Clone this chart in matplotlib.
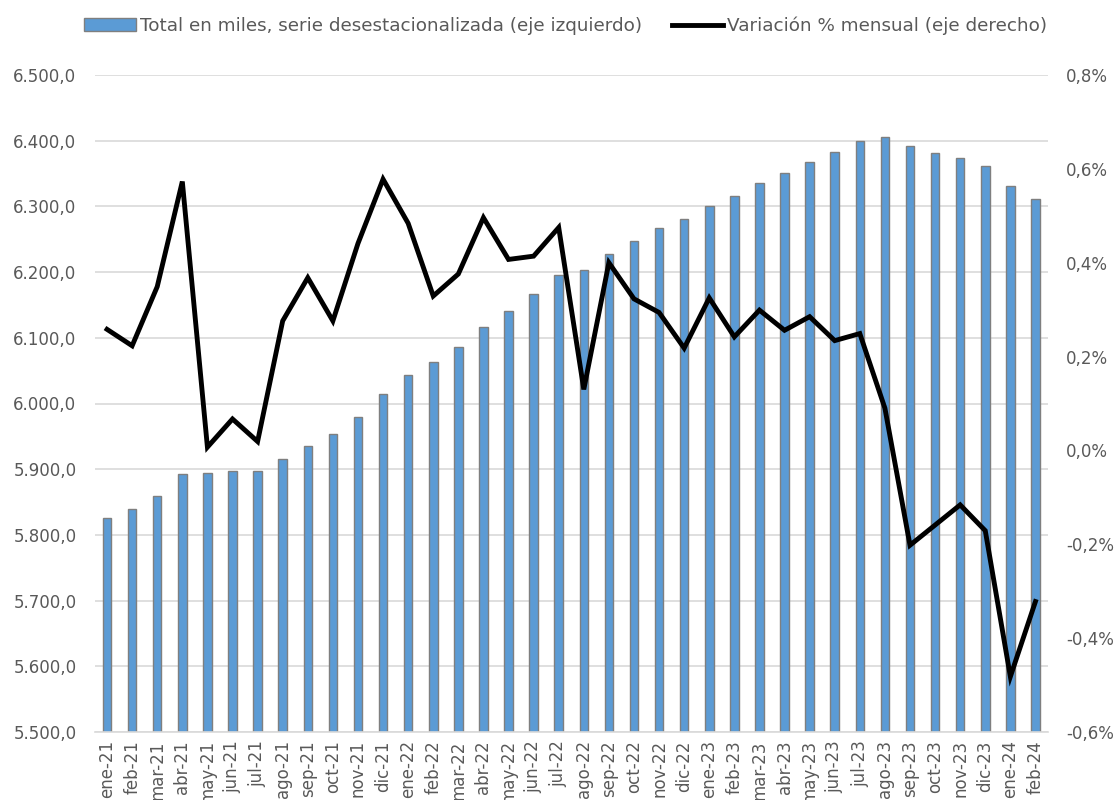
import matplotlib
matplotlib.use("Agg")
import matplotlib.pyplot as plt
from matplotlib.ticker import FuncFormatter
from matplotlib.lines import Line2D
from matplotlib.patches import Patch

plt.rcParams['font.family'] = ['DejaVu Sans']

# meses
meses = ["ene-21", "feb-21", "mar-21", "abr-21", "may-21", "jun-21", "jul-21", "ago-21",
         "sep-21", "oct-21", "nov-21", "dic-21", "ene-22", "feb-22", "mar-22", "abr-22",
         "may-22", "jun-22", "jul-22", "ago-22", "sep-22", "oct-22", "nov-22", "dic-22",
         "ene-23", "feb-23", "mar-23", "abr-23", "may-23", "jun-23", "jul-23", "ago-23",
         "sep-23", "oct-23", "nov-23", "dic-23", "ene-24", "feb-24"]

# total en miles (serie desestacionalizada)
total_miles = [5826, 5839, 5859, 5893, 5894, 5897, 5898, 5915,
               5936, 5953, 5979, 6014, 6043, 6063, 6086, 6116,
               6141, 6166, 6196, 6203, 6228, 6248, 6267, 6281,
               6300, 6316, 6335, 6351, 6368, 6383, 6400, 6405,
               6392, 6382, 6374, 6362, 6331, 6311]

# variacion % mensual
variacion = [0.258, 0.223, 0.349, 0.573, 0.007, 0.067, 0.019, 0.276,
             0.368, 0.276, 0.441, 0.578, 0.484, 0.329, 0.376, 0.496,
             0.407, 0.414, 0.475, 0.130, 0.400, 0.323, 0.294, 0.218,
             0.325, 0.242, 0.299, 0.256, 0.285, 0.234, 0.249, 0.090,
             -0.202, -0.159, -0.116, -0.171, -0.482, -0.322]

gris = "#595959"
azul = "#5B9BD5"

fig = plt.figure(figsize=(11.14, 8), dpi=100)
ax = fig.add_axes([94.5 / 1114, 1 - 732 / 800, (1048 - 94.5) / 1114, (732 - 75) / 800])
x = list(range(len(meses)))

ax.bar(x, total_miles, width=0.34, color=azul, edgecolor="#7F7F7F", linewidth=1.0, zorder=2)
ax.set_ylim(5500, 6500)
ax.set_yticks(range(5500, 6501, 100))
ax.yaxis.set_major_formatter(FuncFormatter(lambda v, p: f"{v:,.1f}".replace(",", "X").replace(".", ",").replace("X", ".")))
ax.set_xlim(-0.5, len(meses) - 0.5)
ax.set_xticks(x)
ax.set_xticklabels(meses, rotation=90)
ax.grid(axis="y", color="#D9D9D9", linewidth=1.2, zorder=0)
ax.set_axisbelow(True)
for s in ["top", "right", "left"]:
    ax.spines[s].set_visible(False)
ax.spines["bottom"].set_color("#D9D9D9")
ax.spines["bottom"].set_linewidth(1.2)
ax.tick_params(axis="both", length=0, labelsize=12, colors=gris)
ax.tick_params(axis="y", pad=13)
ax.tick_params(axis="x", pad=6)

ax2 = ax.twinx()
ax2.plot(x, variacion, color="black", linewidth=3.5, solid_joinstyle="miter", zorder=3)
ax2.set_ylim(-0.6, 0.8)
ax2.set_yticks([-0.6, -0.4, -0.2, 0.0, 0.2, 0.4, 0.6, 0.8])
ax2.yaxis.set_major_formatter(FuncFormatter(lambda v, p: f"{v:.1f}%".replace(".", ",")))
for s in ax2.spines.values():
    s.set_visible(False)
ax2.tick_params(axis="y", length=0, labelsize=12, colors=gris, pad=13)

handles = [Patch(facecolor=azul, edgecolor="#7F7F7F", linewidth=1.0),
           Line2D([0], [0], color="black", linewidth=3.5)]
labels = ["Total en miles, serie desestacionalizada (eje izquierdo)",
          "Variación % mensual (eje derecho)"]
fig.legend(handles, labels, loc="center", bbox_to_anchor=(0.508, 0.968), ncol=2,
           frameon=False, fontsize=13.2, labelcolor=gris, handlelength=2.8,
           handletextpad=0.25, columnspacing=1.6, handleheight=0.65)

fig.savefig("out.png", dpi=100)
